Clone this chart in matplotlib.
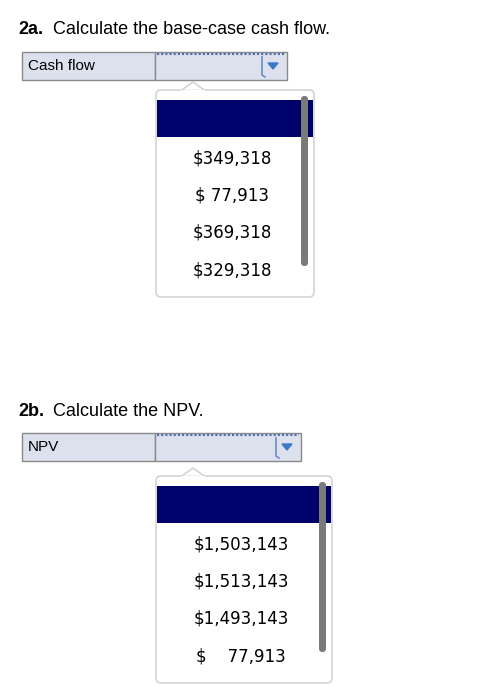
import matplotlib.pyplot as plt
from matplotlib.patches import Rectangle, FancyBboxPatch, Polygon

# questions and dropdown choices
titles = [("2a.", "Calculate the base-case cash flow."), ("2b.", "Calculate the NPV.")]
labels = ["Cash flow", "NPV"]
options_a = ["$349,318", "$ 77,913", "$369,318", "$329,318"]
options_b = ["$1,503,143", "$1,513,143", "$1,493,143", "$    77,913"]

fig = plt.figure(figsize=(4.78, 7.0), dpi=100)
ax = fig.add_axes([0, 0, 1, 1])
ax.set_xlim(0, 478)
ax.set_ylim(700, 0)
ax.axis("off")

cell = "#dde1ee"
edge = "#8a8a8a"
navy = "#00006b"


def block(y0, title, label, opts, cell_r, panel_r, extra):
    ax.text(18, y0, title[0], fontsize=13, fontweight="bold", va="center", family="Liberation Sans")
    ax.text(53, y0, title[1], fontsize=13, va="center", family="Liberation Sans")
    ty = y0 + 22
    ax.add_patch(Rectangle((22, ty), 133, 28, facecolor=cell, edgecolor=edge, lw=1))
    ax.add_patch(Rectangle((155, ty), cell_r - 155, 28, facecolor=cell, edgecolor=edge, lw=1))
    ax.plot([157, cell_r - 2], [ty + 2, ty + 2], color="#4a6fb0", lw=1.5, ls=(0, (1, 1)))
    ax.text(28, ty + 14, label, fontsize=11, va="center", family="Liberation Sans")
    # arrow button
    bx = cell_r - 25
    ax.plot([bx, bx, bx + 3], [ty + 5, ty + 23, ty + 25], color="#6a8cc8", lw=1.2)
    ax.add_patch(Polygon([[bx + 6, ty + 11], [bx + 16, ty + 11], [bx + 11, ty + 17]], color="#3a78c8"))
    # dropdown panel
    py = ty + 38 + extra
    ph = 207
    ax.add_patch(FancyBboxPatch((156, py), panel_r - 156, ph, boxstyle="round,pad=0,rounding_size=5",
                                facecolor="white", edgecolor="#d4d4d4", lw=1.2))
    cx = 193
    ax.add_patch(Polygon([[cx - 12, py + 0.5], [cx, py - 8], [cx + 12, py + 0.5]],
                         facecolor="white", edgecolor="#d4d4d4", lw=1.2))
    ax.plot([cx - 11, cx + 11], [py + 0.8, py + 0.8], color="white", lw=1.5)
    ax.add_patch(Rectangle((157, py + 10), panel_r - 158, 37, facecolor=navy, edgecolor="none"))
    ax.add_patch(FancyBboxPatch((panel_r - 13, py + 6), 7, 170, boxstyle="round,pad=0,rounding_size=3.5",
                                facecolor="#7a7a7a", edgecolor="none"))
    mid = (156 + panel_r - 12) / 2 + 3
    for i, o in enumerate(opts):
        ax.text(mid, py + 68 + i * 37.5, o, fontsize=12, ha="center", va="center", family="DejaVu Sans")


block(30, titles[0], labels[0], options_a, 287, 314, 0)
block(411, titles[1], labels[1], options_b, 301, 332, 5)

fig.savefig("out.png", dpi=100)
